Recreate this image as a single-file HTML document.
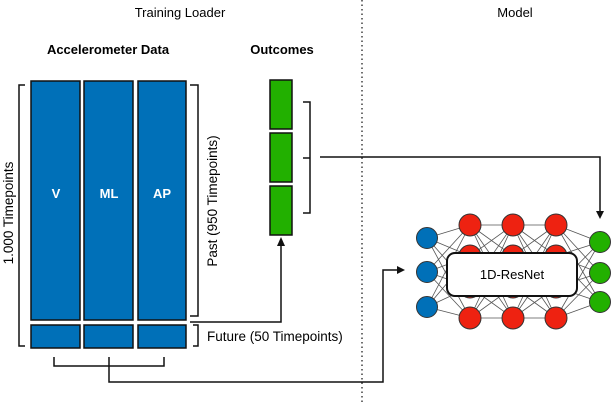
<!DOCTYPE html>
<html><head><style>body{margin:0;background:#fff}svg{display:block}text{font-family:"Liberation Sans",sans-serif}</style></head>
<body>
<svg width="612" height="402" viewBox="0 0 612 402" xmlns="http://www.w3.org/2000/svg">
<line x1="362" y1="0" x2="362" y2="402" stroke="#222" stroke-width="1.3" stroke-dasharray="1.5,3"/>
<text x="180" y="17" font-size="13" text-anchor="middle">Training Loader</text>
<text x="515" y="17" font-size="13" text-anchor="middle">Model</text>
<text x="108" y="54" font-size="13" font-weight="bold" text-anchor="middle">Accelerometer Data</text>
<text x="282" y="54" font-size="13" font-weight="bold" text-anchor="middle">Outcomes</text>
<g fill="#0070b8" stroke="#111" stroke-width="1.5">
<rect x="31" y="81" width="49" height="239"/><rect x="84" y="81" width="49" height="239"/><rect x="138" y="81" width="48" height="239"/>
<rect x="31" y="325" width="49" height="23"/><rect x="84" y="325" width="49" height="23"/><rect x="138" y="325" width="48" height="23"/>
</g>
<g fill="#fff" font-size="13" font-weight="bold" text-anchor="middle">
<text x="56" y="198">V</text><text x="109" y="198">ML</text><text x="162" y="198">AP</text></g>
<g fill="#22b000" stroke="#111" stroke-width="1.5">
<rect x="270" y="80" width="22" height="49"/><rect x="270" y="133" width="22" height="49"/><rect x="270" y="186" width="22" height="49"/></g>
<g fill="none" stroke="#111" stroke-width="1.5">
<path d="M25 85H19V346H25"/>
<path d="M190 85H198V316H190"/>
<path d="M193 325H198V346H193"/>
<path d="M303 102H310V213H303M303 158H310"/>
<path d="M54 357V366H164V357M109 357V366"/>
<path d="M320 157H600V212"/>
<path d="M190 322H281V245"/>
<path d="M109 366V382H383V270H398"/>
</g>
<g fill="#111"><path d="M596 211L604 211L600 219Z"/><path d="M277 246L285 246L281 237Z"/><path d="M397 266L397 274L405 270Z"/></g>
<text transform="translate(13,213) rotate(-90)" font-size="13.5" text-anchor="middle">1.000 Timepoints</text>
<text transform="translate(217,201) rotate(-90)" font-size="13.5" text-anchor="middle">Past (950 Timepoints)</text>
<text x="207" y="341" font-size="13.5">Future (50 Timepoints)</text>
<g stroke="#555" stroke-width="0.8">
<path d="M427 238L470 225M427 238L470 256M427 238L470 287M427 238L470 318M427 272L470 225M427 272L470 256M427 272L470 287M427 272L470 318M427 307L470 225M427 307L470 256M427 307L470 287M427 307L470 318"/>
<path d="M470 225L513 225M470 225L513 256M470 225L513 287M470 225L513 318M470 256L513 225M470 256L513 256M470 256L513 287M470 256L513 318M470 287L513 225M470 287L513 256M470 287L513 287M470 287L513 318M470 318L513 225M470 318L513 256M470 318L513 287M470 318L513 318"/>
<path d="M513 225L556 225M513 225L556 256M513 225L556 287M513 225L556 318M513 256L556 225M513 256L556 256M513 256L556 287M513 256L556 318M513 287L556 225M513 287L556 256M513 287L556 287M513 287L556 318M513 318L556 225M513 318L556 256M513 318L556 287M513 318L556 318"/>
<path d="M556 225L600 242M556 225L600 273M556 225L600 302M556 256L600 242M556 256L600 273M556 256L600 302M556 287L600 242M556 287L600 273M556 287L600 302M556 318L600 242M556 318L600 273M556 318L600 302"/>
</g>
<g stroke="#333" stroke-width="1">
<g fill="#0070b8"><circle cx="427" cy="238" r="10.5"/><circle cx="427" cy="272" r="10.5"/><circle cx="427" cy="307" r="10.5"/></g>
<g fill="#ee2211">
<circle cx="470" cy="225" r="11"/><circle cx="470" cy="256" r="11"/><circle cx="470" cy="287" r="11"/><circle cx="470" cy="318" r="11"/>
<circle cx="513" cy="225" r="11"/><circle cx="513" cy="256" r="11"/><circle cx="513" cy="287" r="11"/><circle cx="513" cy="318" r="11"/>
<circle cx="556" cy="225" r="11"/><circle cx="556" cy="256" r="11"/><circle cx="556" cy="287" r="11"/><circle cx="556" cy="318" r="11"/></g>
<g fill="#22b000"><circle cx="600" cy="242" r="10.5"/><circle cx="600" cy="273" r="10.5"/><circle cx="600" cy="302" r="10.5"/></g>
</g>
<rect x="447" y="253" width="130" height="43" rx="8" fill="#fff" stroke="#111" stroke-width="2"/>
<text x="512" y="279" font-size="13" text-anchor="middle">1D-ResNet</text>
</svg>
</body></html>
